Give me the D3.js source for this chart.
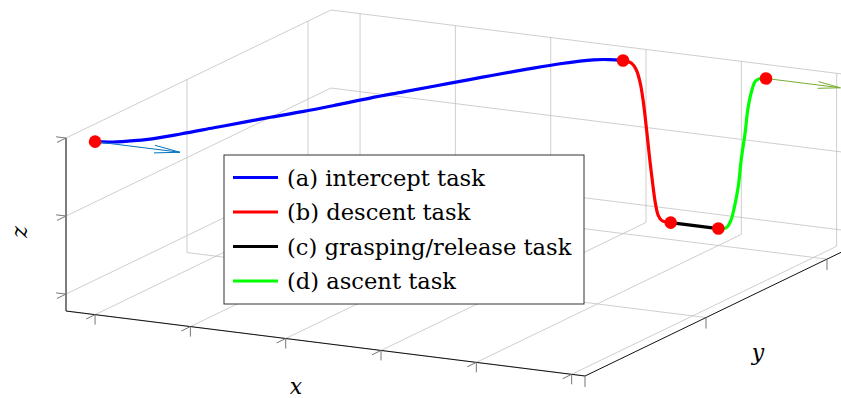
<!DOCTYPE html>
<html>
<head>
<meta charset="utf-8" />
<script src="https://d3js.org/d3.v7.min.js"></script>
<style>
  body { margin: 0; background: #fff; }
  text { font-family: "DejaVu Serif", serif; }
</style>
</head>
<body>
<svg width="841" height="398"></svg>
<script>
// Tick values
var xTicks = [0, 1, 2, 3, 4, 5];
var yTicks = [0, 1, 2];
var zTicks = [0, 1, 2];

// (a) intercept task
var interceptX = [0, 0.13, 0.28, 0.40, 0.58, 0.75, 0.92, 1.04, 1.21, 1.38, 1.54, 1.71, 1.88, 2.05, 2.17, 2.35, 2.53, 2.74, 2.87, 3];
var interceptY = [0, 0.02, 0.07, 0.12, 0.25, 0.39, 0.53, 0.63, 0.76, 0.91, 1.06, 1.20, 1.34, 1.48, 1.58, 1.72, 1.85, 1.96, 1.99, 2];
var interceptZ = [2, 2, 2, 2, 2, 2, 2, 2, 2, 2, 2, 2, 2, 2, 2, 2, 2, 2, 2, 2];

// (b) descent task
var descentX = [3, 3.09, 3.14, 3.18, 3.21, 3.25, 3.28, 3.31, 3.34, 3.37, 3.41, 3.5];
var descentY = [2, 2, 2, 2, 2, 2, 2, 2, 2, 2, 2, 2];
var descentZ = [2, 1.98, 1.90, 1.74, 1.53, 1.12, 0.78, 0.48, 0.22, 0.07, 0.01, 0];

// (c) grasping/release task
var graspX = [3.5, 4];
var graspY = [2, 2];
var graspZ = [0, 0];

// (d) ascent task
var ascentX = [4, 4.08, 4.13, 4.17, 4.21, 4.24, 4.28, 4.31, 4.35, 4.39, 4.44, 4.5];
var ascentY = [2, 2, 2, 2, 2, 2, 2, 2, 2, 2, 2, 2];
var ascentZ = [0, 0.02, 0.12, 0.31, 0.58, 0.92, 1.26, 1.58, 1.82, 1.95, 1.99, 2];

// switching points
var pointX = [0, 3, 3.5, 4, 4.5];
var pointY = [0, 2, 2, 2, 2];
var pointZ = [2, 2, 0, 0, 2];

// velocity arrows (start, vector)
var arrowStart = [[0, 0, 2], [4.5, 2, 2]];
var arrowVec = [[0.89, 0, 0], [0.78, 0, 0]];
var arrowColor = ["#0072bd", "#77ac30"];

var legendLabels = ["(a) intercept task", "(b) descent task", "(c) grasping/release task", "(d) ascent task"];
var legendColors = ["#0000ff", "#ff0000", "#000000", "#00ff00"];

var svg = d3.select("svg");

// axis limits mapped to 0..1 of the box edges
var x = d3.scaleLinear().domain([-0.305, 5.14]).range([0, 1]);
var y = d3.scaleLinear().domain([0, 2.19]).range([0, 1]);
var z = d3.scaleLinear().domain([-0.217, 2]).range([0, 1]);
var xd = x.domain(), yd = y.domain(), zd = z.domain();

// box corner on screen and screen vectors of each box edge
var origin = [66, 311], ex = [519, 65], ey = [265, -128], ez = [0, -173];

function proj(p) {
  var a = x(p[0]), b = y(p[1]), c = z(p[2]);
  return [origin[0] + a * ex[0] + b * ey[0] + c * ez[0],
          origin[1] + a * ex[1] + b * ey[1] + c * ez[1]];
}

function seg(g, p1, p2, color, w) {
  var s = proj(p1), e = proj(p2);
  g.append("line")
    .attr("x1", s[0]).attr("y1", s[1])
    .attr("x2", e[0]).attr("y2", e[1])
    .attr("stroke", color).attr("stroke-width", w);
}

// grid
var grid = svg.append("g");
var gc = "#c2c2c2";
xTicks.forEach(function (t) {
  seg(grid, [t, yd[0], zd[0]], [t, yd[1], zd[0]], gc, 0.8);   // floor
  seg(grid, [t, yd[1], zd[0]], [t, yd[1], zd[1]], gc, 0.8);   // back wall
});
yTicks.forEach(function (t) {
  seg(grid, [xd[0], t, zd[0]], [xd[1], t, zd[0]], gc, 0.8);   // floor
  seg(grid, [xd[0], t, zd[0]], [xd[0], t, zd[1]], gc, 0.8);   // left wall
});
zTicks.forEach(function (t) {
  seg(grid, [xd[0], yd[0], t], [xd[0], yd[1], t], gc, 0.8);   // left wall
  seg(grid, [xd[0], yd[1], t], [xd[1], yd[1], t], gc, 0.8);   // back wall
});

// axes
var axes = svg.append("g");
seg(axes, [xd[0], yd[0], zd[0]], [xd[1], yd[0], zd[0]], "#111", 1);
seg(axes, [xd[1], yd[0], zd[0]], [xd[1], yd[1], zd[0]], "#111", 1);
seg(axes, [xd[0], yd[0], zd[0]], [xd[0], yd[0], zd[1]], "#444", 1.3);

// tick marks
var tc = "#777";
function tick(p, dx, dy) {
  var s = proj(p);
  axes.append("line")
    .attr("x1", s[0]).attr("y1", s[1])
    .attr("x2", s[0] + dx).attr("y2", s[1] + dy)
    .attr("stroke", tc).attr("stroke-width", 1);
}
xTicks.forEach(function (t) {
  tick([t, yd[0], zd[0]], -9, 4.4);
  tick([t, yd[0], zd[0]], 0, 10);
});
yTicks.forEach(function (t) {
  tick([xd[1], t, zd[0]], 0, 11);
});
zTicks.forEach(function (t) {
  tick([xd[0], yd[0], t], -9, 4.4);
  tick([xd[0], yd[0], t], -9.9, -1.2);
});

// axis labels
svg.append("text").attr("x", 296).attr("y", 394)
  .attr("text-anchor", "middle").style("font-style", "italic").style("font-size", "22px").text("x");
svg.append("text").attr("x", 758).attr("y", 360)
  .attr("text-anchor", "middle").style("font-style", "italic").style("font-size", "22px").text("y");
svg.append("text").attr("transform", "translate(27,232) rotate(-90)")
  .attr("text-anchor", "middle").style("font-style", "italic").style("font-size", "22px").text("z");

// trajectory
var line = d3.line().curve(d3.curveCatmullRom.alpha(0.5));
function path3(xs, ys, zs, color) {
  var pts = xs.map(function (v, i) { return proj([v, ys[i], zs[i]]); });
  svg.append("path").attr("d", line(pts))
    .attr("fill", "none").attr("stroke", color).attr("stroke-width", 3.2)
    .attr("stroke-linejoin", "round");
}
path3(interceptX, interceptY, interceptZ, legendColors[0]);
path3(descentX, descentY, descentZ, legendColors[1]);
path3(graspX, graspY, graspZ, legendColors[2]);
path3(ascentX, ascentY, ascentZ, legendColors[3]);

// arrows
arrowStart.forEach(function (p, i) {
  var v = arrowVec[i];
  var s = proj(p), e = proj([p[0] + v[0], p[1] + v[1], p[2] + v[2]]);
  var dx = e[0] - s[0], dy = e[1] - s[1], len = Math.sqrt(dx * dx + dy * dy);
  var ux = dx / len, uy = dy / len, hl = len * 0.3, hw = hl * 0.15;
  var bx = e[0] - ux * hl, by = e[1] - uy * hl;
  var g = svg.append("g").attr("stroke", arrowColor[i]).attr("stroke-width", 1).attr("fill", "none");
  g.append("line").attr("x1", s[0]).attr("y1", s[1]).attr("x2", e[0]).attr("y2", e[1]);
  g.append("polyline").attr("points",
    [[bx - uy * hw, by + ux * hw], e, [bx + uy * hw, by - ux * hw]].map(function (q) { return q.join(","); }).join(" "));
});

// switching points
svg.selectAll(".pt").data(pointX).enter().append("circle")
  .attr("class", "pt")
  .attr("cx", function (d, i) { return proj([d, pointY[i], pointZ[i]])[0]; })
  .attr("cy", function (d, i) { return proj([d, pointY[i], pointZ[i]])[1]; })
  .attr("r", 6.3).attr("fill", "#ff0000");

// legend
var lg = svg.append("g").attr("transform", "translate(224,155)");
lg.append("rect").attr("width", 360).attr("height", 149)
  .attr("fill", "#fff").attr("stroke", "#333").attr("stroke-width", 1);
legendLabels.forEach(function (lab, i) {
  var yy = 22.5 + i * 34.5;
  lg.append("line").attr("x1", 9).attr("x2", 54).attr("y1", yy).attr("y2", yy)
    .attr("stroke", legendColors[i]).attr("stroke-width", 3);
  lg.append("text").attr("x", 63).attr("y", yy + 8).style("font-size", "22.6px").text(lab);
});
</script>
</body>
</html>
